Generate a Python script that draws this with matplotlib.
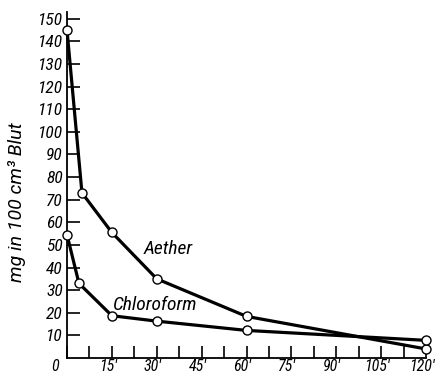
import matplotlib
matplotlib.use("Agg")
import matplotlib.pyplot as plt
from matplotlib.transforms import ScaledTranslation

# Data (minutes, mg in 100 cm3 Blut)
aether_t = [0, 5, 15, 30, 60, 120]
aether_v = [145, 73, 55.5, 35, 18.4, 4]
chloro_t = [0, 4, 15, 30, 60, 120]
chloro_v = [54.5, 33, 18.7, 16.3, 12.2, 7.8]

y_ticks = list(range(10, 151, 10))
x_ticks = [7.5 * i for i in range(0, 17)]
x_labels = ["0" if t == 0 else (f"{int(t)}'" if t % 15 == 0 else "") for t in x_ticks]

FONT = ["Roboto Condensed", "DejaVu Sans"]

fig = plt.figure(figsize=(4.43, 3.79), dpi=100)
ax = fig.add_axes([67 / 443, 21 / 379, (426 - 67) / 443, (358 - 12) / 379])

for t, v in [(aether_t, aether_v), (chloro_t, chloro_v)]:
    ax.plot(t, v, color="black", lw=2.3, marker="o", ms=6.5,
            mfc="white", mec="black", mew=1.0, solid_joinstyle="round", clip_on=False, zorder=3)

ax.set_xlim(0, 120)
ax.set_ylim(0, 153)
for s in ["top", "right"]:
    ax.spines[s].set_visible(False)
for s in ["left", "bottom"]:
    ax.spines[s].set_linewidth(1.3)

ax.set_yticks(y_ticks)
ax.set_yticklabels([str(v) for v in y_ticks], family=FONT, style="italic", fontsize=12.5)
ax.set_xticks(x_ticks)
ax.set_xticklabels(x_labels, family=FONT, style="italic", fontsize=11.5)
ax.tick_params(axis="y", direction="in", length=9.5, width=1.2, pad=3)
ax.tick_params(axis="x", direction="in", length=9, width=1.2, pad=1)

off = ScaledTranslation(-4 / 100, 0, fig.dpi_scale_trans)
for lab in ax.get_xticklabels():
    lab.set_transform(lab.get_transform() + off)
ax.get_xticklabels()[0].set_transform(ax.get_xticklabels()[0].get_transform()
                                      + ScaledTranslation(-8 / 100, 0, fig.dpi_scale_trans))

ax.set_ylabel("mg in 100 cm³ Blut", family=["Roboto", "DejaVu Sans"],
              style="italic", fontsize=14)
ax.yaxis.set_label_coords(-0.115, 0.45)

ax.text(25.5, 48, "Aether", family=FONT, style="italic", fontsize=14, ha="left", va="center")
ax.text(15.5, 23.5, "Chloroform", family=FONT, style="italic", fontsize=14, ha="left", va="center")

fig.savefig("out.png", dpi=100)
